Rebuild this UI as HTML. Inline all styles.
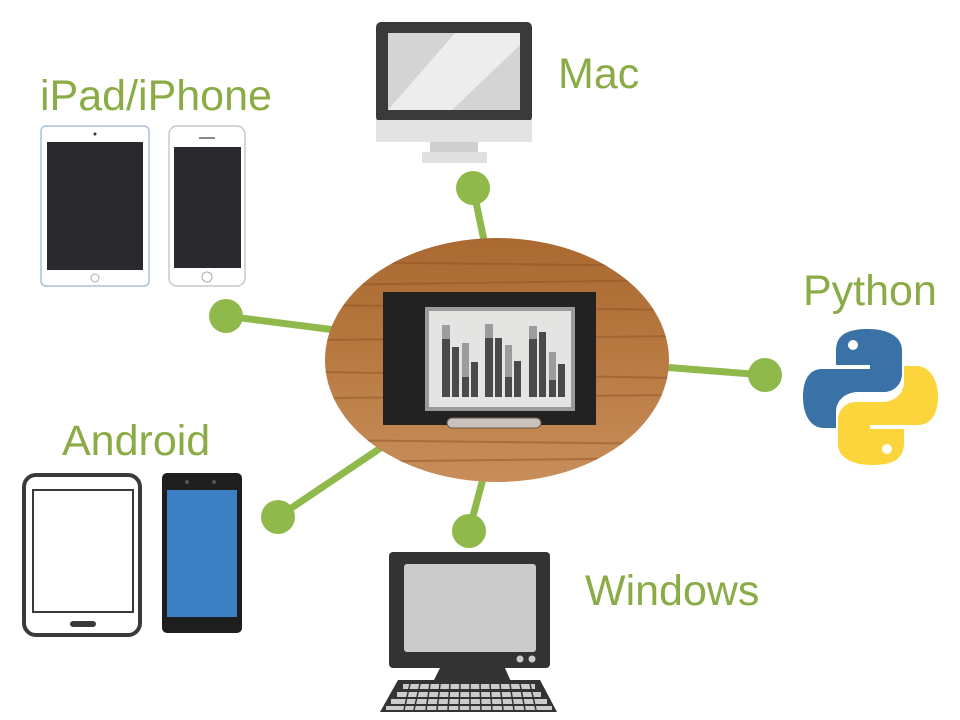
<!DOCTYPE html>
<html><head><style>
body{margin:0;background:#fff;width:960px;height:720px;overflow:hidden}
svg{display:block}
text{font-family:"Liberation Sans",sans-serif;fill:#8aab45;font-size:43px}
</style></head><body>
<svg width="960" height="720" viewBox="0 0 960 720">
<defs>
<clipPath id="el"><ellipse cx="497" cy="360" rx="172" ry="122"/></clipPath>
<linearGradient id="wood" x1="0" y1="0" x2="0" y2="1">
<stop offset="0" stop-color="#a8682f"/><stop offset="0.5" stop-color="#b97a42"/><stop offset="1" stop-color="#c98f5c"/></linearGradient>
</defs>
<g stroke="#8fb94a" stroke-width="7">
<line x1="473" y1="188" x2="485" y2="245"/>
<line x1="226" y1="316" x2="335" y2="330"/>
<line x1="765" y1="375" x2="662" y2="367"/>
<line x1="278" y1="517" x2="385" y2="445"/>
<line x1="469" y1="531" x2="484" y2="475"/>
</g>
<g fill="#8fb94a">
<circle cx="473" cy="188" r="17"/><circle cx="226" cy="316" r="17"/>
<circle cx="765" cy="375" r="17"/><circle cx="278" cy="517" r="17"/>
<circle cx="469" cy="531" r="17"/>
</g>
<g clip-path="url(#el)">
<rect x="320" y="230" width="360" height="260" fill="url(#wood)"/>
<g stroke="#8a4f22" stroke-width="2" opacity="0.45">
<line x1="320" y1="262" x2="680" y2="266"/><line x1="320" y1="285" x2="680" y2="280"/>
<line x1="320" y1="305" x2="680" y2="310"/><line x1="320" y1="340" x2="680" y2="336"/>
<line x1="320" y1="372" x2="680" y2="378"/><line x1="320" y1="398" x2="680" y2="395"/>
<line x1="320" y1="440" x2="680" y2="444"/><line x1="320" y1="462" x2="680" y2="458"/>
</g>
<rect x="383" y="292" width="213" height="133" fill="#222"/>
<rect x="425" y="307" width="150" height="104" fill="#9a9a9a"/>
<rect x="429" y="311" width="142" height="96" fill="#e4e4e2"/>
<g fill="#4a4a4a">
<rect x="442" y="325" width="8" height="72"/><rect x="452" y="347" width="7" height="50"/>
<rect x="462" y="343" width="7" height="54"/><rect x="471" y="362" width="7" height="35"/>
<rect x="485" y="324" width="8" height="73"/><rect x="495" y="338" width="7" height="59"/>
<rect x="505" y="345" width="7" height="52"/><rect x="514" y="361" width="7" height="36"/>
<rect x="529" y="326" width="8" height="71"/><rect x="539" y="332" width="7" height="65"/>
<rect x="549" y="352" width="7" height="45"/><rect x="558" y="364" width="7" height="33"/>
</g>
<g fill="#9c9c9c">
<rect x="442" y="325" width="8" height="14"/><rect x="462" y="343" width="7" height="34"/>
<rect x="485" y="324" width="8" height="14"/><rect x="505" y="345" width="7" height="32"/>
<rect x="529" y="326" width="8" height="13"/><rect x="549" y="352" width="7" height="28"/>
</g>
<rect x="447" y="418" width="94" height="10" rx="5" fill="#c9c2bb" stroke="#6b5a4a"/>
</g>
<rect x="376" y="22" width="156" height="100" rx="5" fill="#3a3a3a"/>
<rect x="388" y="33" width="132" height="77" fill="#d4d4d4"/>
<polygon points="455,33 520,33 520,45 452,110 388,110" fill="#f2f2f2" opacity="0.8"/>
<rect x="376" y="120" width="156" height="22" fill="#e3e3e3"/>
<rect x="430" y="142" width="48" height="11" fill="#cfcfcf"/>
<rect x="422" y="152" width="65" height="11" fill="#e0e0e0"/>
<text x="558" y="88">Mac</text>
<text x="40" y="110">iPad/iPhone</text>
<rect x="41" y="126" width="108" height="160" rx="5" fill="#fff" stroke="#a8c0d8" stroke-width="1.5"/>
<rect x="47" y="142" width="96" height="128" fill="#2a2a2e"/>
<circle cx="95" cy="278" r="4" fill="none" stroke="#aaa"/>
<circle cx="95" cy="134" r="1.5" fill="#333"/>
<rect x="169" y="126" width="76" height="160" rx="8" fill="#fff" stroke="#c8c8c8" stroke-width="1.5"/>
<rect x="174" y="147" width="67" height="121" fill="#2a2a2e"/>
<circle cx="207" cy="277" r="5" fill="none" stroke="#aaa"/>
<rect x="199" y="137" width="16" height="2" fill="#888"/>
<text x="803" y="305">Python</text>
<path d="M868,329 C840,329 836,340 836,352 L836,365 L870,365 L870,369 L822,369 C808,369 803,382 803,397 C803,414 810,428 824,428 L836,428 L836,412 C836,400 846,392 858,392 L884,392 C894,392 902,384 902,374 L902,350 C902,338 890,329 868,329 Z" fill="#3a72a8"/>
<circle cx="853" cy="345" r="5" fill="#fff"/>
<path d="M872,465 C900,465 904,454 904,442 L904,429 L870,429 L870,425 L918,425 C932,425 938,412 938,397 C938,380 930,366 916,366 L904,366 L904,382 C904,394 894,402 882,402 L856,402 C846,402 838,410 838,420 L838,444 C838,456 850,465 872,465 Z" fill="#fcd43b"/>
<circle cx="887" cy="449" r="5" fill="#fff"/>
<text x="62" y="455">Android</text>
<rect x="24" y="475" width="116" height="160" rx="12" fill="#fff" stroke="#3a3a3a" stroke-width="4"/>
<rect x="33" y="490" width="100" height="122" fill="#fff" stroke="#3a3a3a" stroke-width="2"/>
<rect x="70" y="621" width="26" height="6" rx="3" fill="#3a3a3a"/>
<rect x="162" y="473" width="80" height="160" rx="5" fill="#1e1e1e"/>
<rect x="167" y="490" width="70" height="127" fill="#3a80c2"/>
<circle cx="187" cy="482" r="2" fill="#555"/><circle cx="214" cy="482" r="2" fill="#555"/>
<text x="585" y="605">Windows</text>
<rect x="389" y="552" width="161" height="116" rx="4" fill="#333"/>
<rect x="404" y="564" width="132" height="88" rx="3" fill="#cbcbcb"/>
<circle cx="520" cy="659" r="3.5" fill="#ccc"/><circle cx="532" cy="659" r="3.5" fill="#ccc"/>
<polygon points="440,668 505,668 512,684 432,684" fill="#333"/>
<polygon points="398,680 540,680 557,712 380,712" fill="#333"/>
<g fill="#ccc">
<rect x="403" y="684" width="132" height="5"/>
<rect x="397" y="692" width="144" height="5"/>
<rect x="391" y="699" width="156" height="5"/>
<rect x="386" y="706" width="166" height="4"/>
</g>
<g stroke="#333" stroke-width="1.5">
<line x1="410" y1="684" x2="404" y2="710"/><line x1="420" y1="684" x2="414" y2="710"/>
<line x1="430" y1="684" x2="426" y2="710"/><line x1="440" y1="684" x2="437" y2="710"/>
<line x1="450" y1="684" x2="448" y2="710"/><line x1="460" y1="684" x2="459" y2="710"/>
<line x1="470" y1="684" x2="470" y2="710"/><line x1="480" y1="684" x2="481" y2="710"/>
<line x1="490" y1="684" x2="492" y2="710"/><line x1="500" y1="684" x2="503" y2="710"/>
<line x1="510" y1="684" x2="514" y2="710"/><line x1="520" y1="684" x2="525" y2="710"/>
<line x1="530" y1="684" x2="536" y2="710"/>
</g>
</svg>
</body></html>
